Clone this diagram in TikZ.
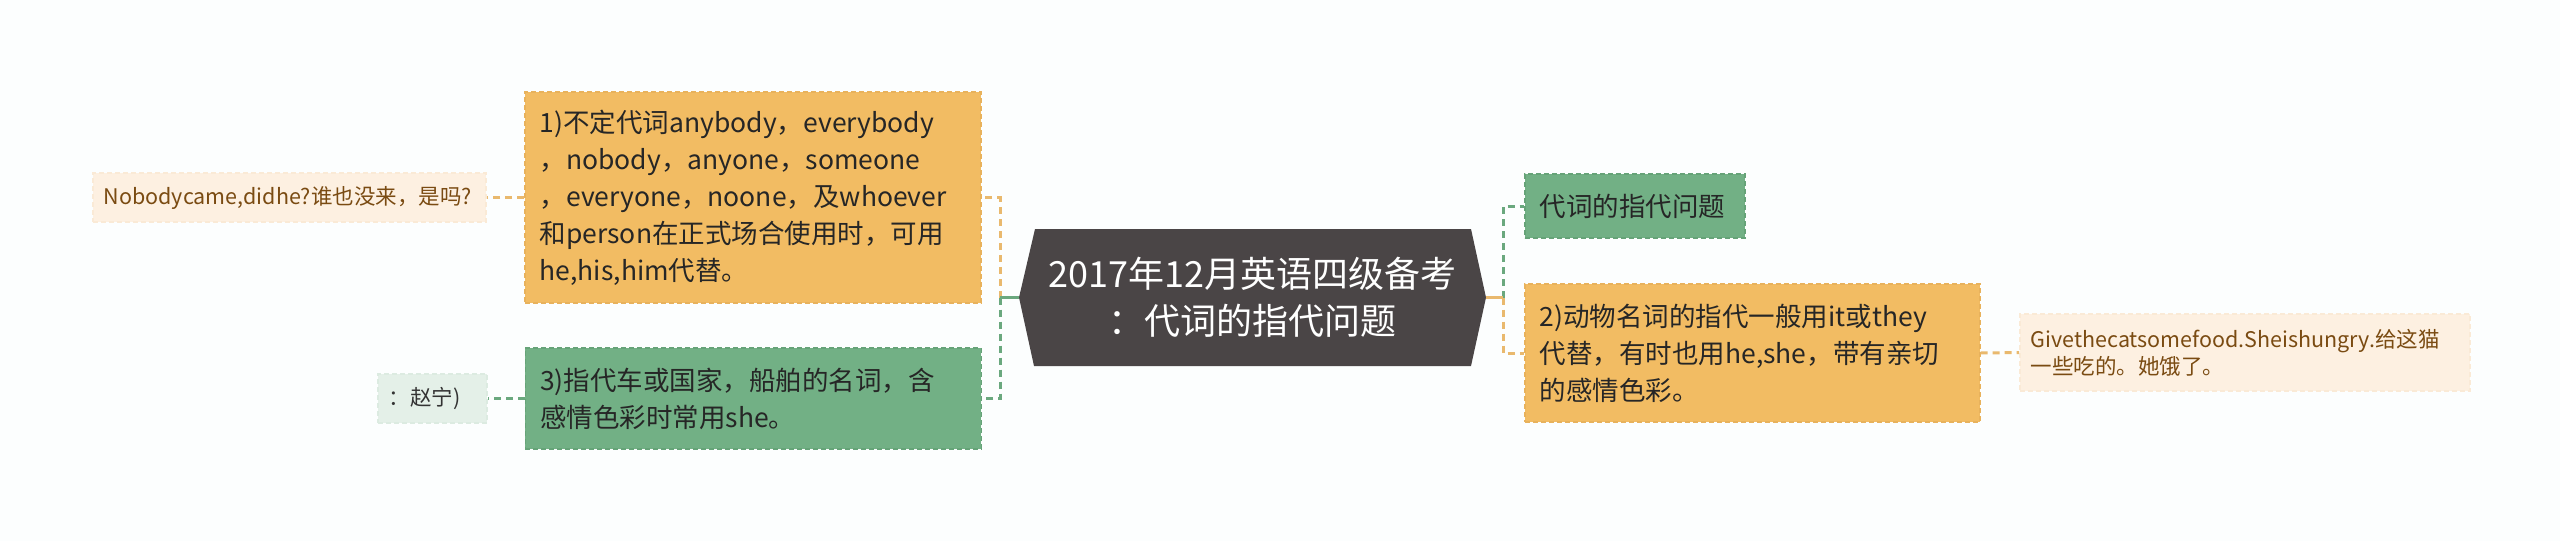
\documentclass[tikz,border=0pt]{standalone}
\usepackage{fontspec}
\setmainfont{Noto Sans CJK SC}

\definecolor{pagebg}{RGB}{252,254,254}
\definecolor{rootfill}{RGB}{74,69,70}
\definecolor{tanfill}{RGB}{242,188,99}
\definecolor{tanline}{RGB}{232,178,92}
\definecolor{tanlink}{RGB}{233,185,110}
\definecolor{greenfill}{RGB}{114,176,133}
\definecolor{greenline}{RGB}{102,163,120}
\definecolor{greenlink}{RGB}{106,168,126}
\definecolor{peachfill}{RGB}{253,240,225}
\definecolor{peachline}{RGB}{250,234,214}
\definecolor{peachtext}{RGB}{122,75,18}
\definecolor{mintfill}{RGB}{228,240,232}
\definecolor{mintline}{RGB}{220,235,225}

\tikzset{every picture/.style={line width=0.75pt},
  topicbox/.style={anchor=west, draw, line width=1.5, dash pattern=on 5pt off 3pt,
    inner xsep=15, inner ysep=0, align=left, text=black!85,
    font=\fontsize{26.5}{37}\selectfont},
  tanbox/.style={topicbox, fill=tanfill, draw=tanline},
  greenbox/.style={topicbox, fill=greenfill, draw=greenline},
  leafbox/.style={anchor=west, draw, line width=1.5, dash pattern=on 5pt off 3pt,
    inner xsep=11, inner ysep=0, align=left, font=\fontsize{21.5}{27}\selectfont},
  peachleaf/.style={leafbox, fill=peachfill, draw=peachline, text=peachtext},
  mintleaf/.style={leafbox, fill=mintfill, draw=mintline, text=black!80},
  tanwire/.style={draw=tanlink, line width=3, dash pattern=on 7pt off 5pt},
  greenwire/.style={draw=greenlink, line width=3, dash pattern=on 7pt off 5pt},
}

\begin{document}
\begin{tikzpicture}[x=1pt,y=1pt,yscale=-1,xscale=1]
%set diagram size 2560 x 541
\fill[pagebg] (0,0) rectangle (2560,541);
\useasboundingbox (0,0) rectangle (2560,541);

%Shape: root hexagon
\coordinate (rootW) at (1019,297.5);
\coordinate (rootE) at (1486,297.5);
\fill[rootfill] (1035,229) -- (1471,229) -- (rootE) -- (1471,366) -- (1034,366) -- (rootW) -- cycle ;
% Text Node
\node (root) at (1252.5,297.5) [align=center, text=white, font=\fontsize{36}{47}\selectfont] {2017年12月英语四级备考\\：代词的指代问题};

% Text Node
\node (n1) [tanbox, minimum height=211, text width=426] at (524,197.5) {1)不定代词anybody，everybody\\，nobody，anyone，someone\\，everyone，noone，及whoever\\和person在正式场合使用时，可用\\he,his,him代替。};
% Text Node
\node (n3) [greenbox, minimum height=101, text width=426] at (524.5,398.5) {3)指代车或国家，船舶的名词，含\\感情色彩时常用she。};
% Text Node
\node (nT) [greenbox, minimum height=64, text width=190] at (1524,206) {代词的指代问题};
% Text Node
\node (n2) [tanbox, minimum height=138, text width=425] at (1524,353) {2)动物名词的指代一般用it或they\\代替，有时也用he,she，带有亲切\\的感情色彩。};

% Text Node
\node (leafA) [peachleaf, minimum height=49, text width=371] at (92,197.5) {Nobodycame,didhe?谁也没来，是吗?};
% Text Node
\node (leafB) [mintleaf, minimum height=49, text width=87] at (377,398.5) {：赵宁)};
% Text Node
\node (leafC) [peachleaf, minimum height=77, text width=428] at (2019,352.5) {Givethecatsomefood.Sheishungry.给这猫\\一些吃的。她饿了。};

%Straight Lines
\coordinate (jL) at (1000,297.5);
\coordinate (jR) at (1503,297.5);
\draw[tanwire] (jL) |- (n1.east);
\draw[greenwire] (jL) |- (n3.east);
\draw[draw=greenlink, line width=3] (rootW) -- (jL);
%Straight Lines
\draw[greenwire] (jR) |- (nT.west);
\draw[tanwire] (jR) |- (n2.west);
\draw[draw=tanlink, line width=3] (rootE) -- (jR);
%Straight Lines
\draw[tanwire] (n1.west) -- (leafA.east);
\draw[greenwire] (n3.west) -- (leafB.east);
\draw[tanwire] (n2.east) -- (leafC.west);

\end{tikzpicture}
\end{document}
